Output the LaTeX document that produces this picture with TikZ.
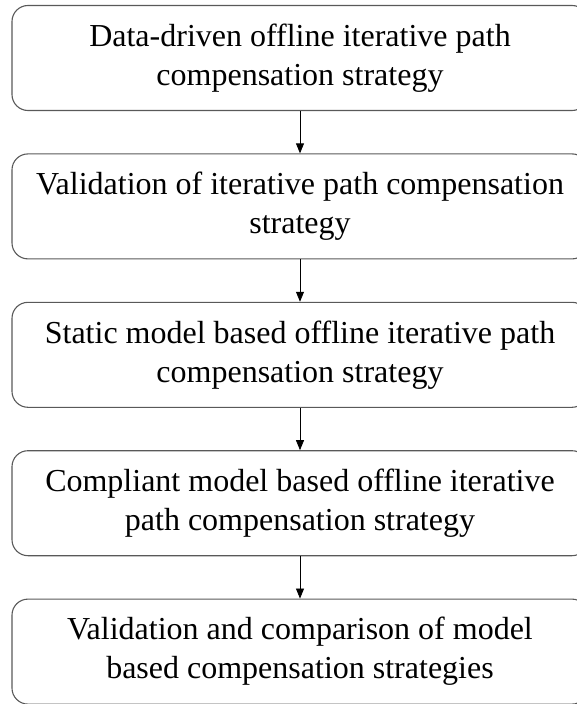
\documentclass[tikz,border=0pt]{standalone}
\usepackage{fontspec}
\setmainfont{Liberation Serif}
\usetikzlibrary{positioning,arrows.meta}

\begin{document}
\begin{tikzpicture}[node distance=148.4pt,on grid,
    stage/.style={draw=black!65,line width=1.1pt,rounded corners=16pt,
      minimum width=576pt,minimum height=105pt,align=center,
      font=\fontsize{32}{39}\selectfont},
    flow/.style={-{Triangle[length=10pt,width=8pt]},line width=0.8pt}]
    \useasboundingbox (0,0) rectangle (577pt,-704pt);
    \node[stage] (s_1) at (300pt,-58pt) {Data-driven offline iterative path\\compensation strategy};
    \node[stage] (s_2) [below=of s_1] {Validation of iterative path compensation\\strategy};
    \node[stage] (s_3) [below=of s_2] {Static model based offline iterative path\\compensation strategy};
    \node[stage] (s_4) [below=of s_3] {Compliant model based offline iterative\\path compensation strategy};
    \node[stage] (s_5) [below=of s_4] {Validation and comparison of model\\based compensation strategies};
    \path[flow]
    (s_1) edge (s_2)
    (s_2) edge (s_3)
    (s_3) edge (s_4)
    (s_4) edge (s_5);
\end{tikzpicture}
\end{document}
